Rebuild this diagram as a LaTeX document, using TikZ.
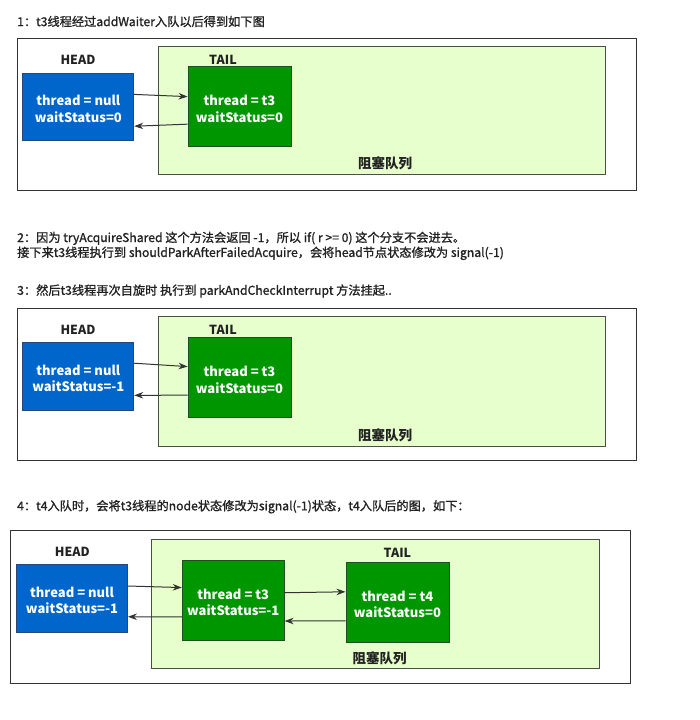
\documentclass[tikz,border=0pt]{standalone}
\usepackage{fontspec}
\setmainfont{Noto Sans CJK SC}
\newfontfamily\titlefont{Noto Sans CJK SC}[FakeBold=1.2]
\usetikzlibrary{calc,arrows.meta}
\definecolor{headblue}{RGB}{0,102,204}
\definecolor{headborder}{RGB}{40,70,120}
\definecolor{nodegreen}{RGB}{0,150,0}
\definecolor{greenborder}{RGB}{30,80,30}
\definecolor{queuefill}{RGB}{230,255,204}
\definecolor{queueborder}{RGB}{70,80,70}
\definecolor{txt}{RGB}{34,34,34}
\newcommand{\upstrut}{\rule{0pt}{15pt}}
\tikzset{
  panel/.style={draw=black!80, line width=0.9pt, inner sep=0pt},
  queue/.style={draw=queueborder, fill=queuefill, line width=1pt, inner sep=0pt},
  headnode/.style={draw=headborder, fill=headblue, text=white, font=\bfseries\fontsize{13}{16.5}\selectfont, align=center, minimum width=111pt, minimum height=67.5pt, inner sep=0pt, line width=0.8pt},
  qnode/.style={draw=greenborder, fill=nodegreen, text=white, font=\bfseries\fontsize{13}{16.5}\selectfont, align=center, minimum width=103pt, minimum height=79.5pt, inner sep=0pt, line width=0.8pt},
  lbl/.style={font=\bfseries\fontsize{12.5}{14}\selectfont, text=txt, inner sep=0pt},
  qlbl/.style={font=\bfseries\fontsize{13.5}{15}\selectfont, text=txt, inner sep=0pt},
  title/.style={anchor=west, font=\titlefont\fontsize{12.2}{14}\selectfont, text=txt, inner sep=0pt},
  arr/.style={-{Stealth[length=9pt,width=6.5pt]}, draw=black!80, line width=1pt}
}
\begin{document}
\begin{tikzpicture}[x=1pt,y=-1pt]
\useasboundingbox (0,0) rectangle (699,720);

% ---------- Panel 1 ----------
\node[title] (s1) at (17,21.5) {1：t3线程经过addWaiter入队以后得到如下图};
\node[panel, minimum width=619pt, minimum height=152pt] (p1) at (326.5,114) {};
\node[queue, minimum width=447pt, minimum height=128pt] (q1) at (381.6,110.4) {};
\node[lbl] (hl1) at (78,60) {HEAD};
\node[lbl] (tl1) at (223,60) {TAIL};
\node[headnode] (h1) at (78.3,106.7) {\upstrut thread = null\\waitStatus=0};
\node[qnode] (t1) at (239.5,106.5) {\upstrut thread = t3\\waitStatus=0};
\node[qlbl] (b1) at (385,163.5) {阻塞队列};
\draw[arr] ($(h1.north east)!0.32!(h1.south east)$) -- ($(t1.north west)!0.377!(t1.south west)$);
\draw[arr] ($(t1.north west)!0.72!(t1.south west)$) -- ($(h1.north east)!0.786!(h1.south east)$);

% ---------- Text 2 & 3 ----------
\node[title] (s2a) at (17,238.3) {2：因为 tryAcquireShared 这个方法会返回 -1，所以 if( r >= 0) 这个分支不会进去。};
\node[title] (s2b) at (17,253.3) {接下来t3线程执行到 shouldParkAfterFailedAcquire，会将head节点状态修改为 signal(-1)};
\node[title] (s3) at (17,291) {3：然后t3线程再次自旋时 执行到 parkAndCheckInterrupt 方法挂起..};

% ---------- Panel 2 ----------
\node[panel, minimum width=619pt, minimum height=152.4pt] (p2) at (326.5,384.5) {};
\node[queue, minimum width=447pt, minimum height=129.3pt] (q2) at (381.6,381.4) {};
\node[lbl] (hl2) at (78,330) {HEAD};
\node[lbl] (tl2) at (223,330) {TAIL};
\node[headnode] (h2) at (78.3,376.2) {\upstrut thread = null\\waitStatus=-1};
\node[qnode] (t2) at (239.5,377.5) {\upstrut thread = t3\\waitStatus=0};
\node[qlbl] (b2) at (385,435.7) {阻塞队列};
\draw[arr] ($(h2.north east)!0.31!(h2.south east)$) -- ($(t2.north west)!0.364!(t2.south west)$);
\draw[arr] ($(t2.north west)!0.72!(t2.south west)$) -- ($(h2.north east)!0.78!(h2.south east)$);

% ---------- Panel 3 ----------
\node[title] (s4) at (17,506.7) {4：t4入队时，会将t3线程的node状态修改为signal(-1)状态，t4入队后的图，如下：};
\node[panel, minimum width=619.3pt, minimum height=152.6pt] (p3) at (320.4,607) {};
\node[queue, minimum width=448pt, minimum height=129.3pt] (q3) at (375.5,603.7) {};
\node[lbl] (hl3) at (72.4,551.7) {HEAD};
\node[lbl] (tl3) at (397.4,553.3) {TAIL};
\node[headnode] (h3) at (72,598.3) {\upstrut thread = null\\waitStatus=-1};
\node[qnode, minimum width=102pt, minimum height=80pt] (t3) at (233.2,600) {\upstrut thread = t3\\waitStatus=-1};
\node[qnode, minimum width=103pt, minimum height=80pt] (t4) at (397.4,602.3) {\upstrut thread = t4\\waitStatus=0};
\node[qlbl] (b3) at (379.5,658.3) {阻塞队列};
\draw[arr] ($(h3.north east)!0.32!(h3.south east)$) -- ($(t3.north west)!0.346!(t3.south west)$);
\draw[arr] ($(t3.north west)!0.71!(t3.south west)$) -- ($(h3.north east)!0.77!(h3.south east)$);
\draw[arr] ($(t3.north east)!0.41!(t3.south east)$) -- ($(t4.north west)!0.37!(t4.south west)$);
\draw[arr] ($(t4.north west)!0.73!(t4.south west)$) -- ($(t3.north east)!0.76!(t3.south east)$);
\end{tikzpicture}
\end{document}
